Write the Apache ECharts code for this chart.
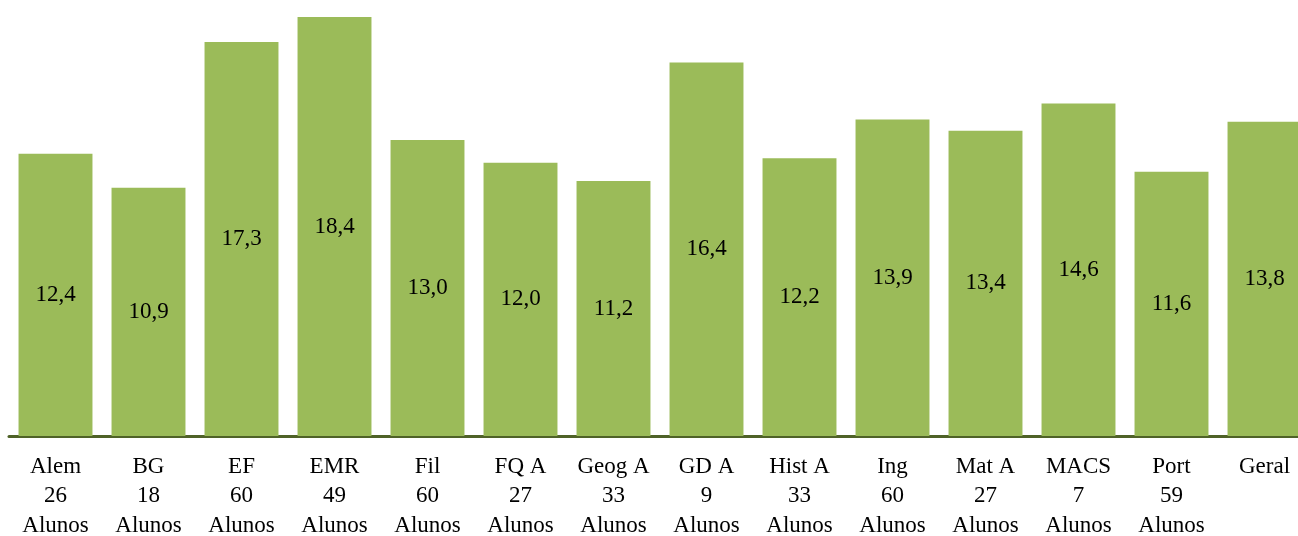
<!DOCTYPE html>
<html><head><meta charset="utf-8">
<script src="https://cdn.jsdelivr.net/npm/echarts@6/dist/echarts.min.js"></script>
<style>html,body{margin:0;padding:0;background:#fff}#c{width:1298px;height:536px}</style>
</head><body><div id="c"></div>
<script>
const subjects = ["Alem","BG","EF","EMR","Fil","FQ A","Geog A","GD A","Hist A","Ing","Mat A","MACS","Port","Geral"];
const students = ["26","18","60","49","60","27","33","9","33","60","27","7","59",""];
const averages = [12.4,10.9,17.3,18.4,13.0,12.0,11.2,16.4,12.2,13.9,13.4,14.6,11.6,13.8];

const categories = subjects.map((s,i)=> students[i] ? s + "\n" + students[i] + "\nAlunos" : s);
const chart = echarts.init(document.getElementById('c'));
chart.setOption({
  animation:false,
  grid:{left:9, width:1302, top:17, height:419, containLabel:false, outerBoundsMode:'none'},
  xAxis:{type:'category', data:categories,
    axisLine:{lineStyle:{color:'#4F6228', width:3}},
    axisTick:{show:false},
    axisLabel:{interval:0, color:'#000', fontFamily:'Liberation Serif', fontSize:23, lineHeight:29.5, margin:16}},
  yAxis:{type:'value', min:0, max:18.4, show:false, splitLine:{show:false}},
  series:[{type:'bar', data:averages, barCategoryGap:'20.5%',
    itemStyle:{color:'#9BBB59'},
    label:{show:true, position:'inside', color:'#000', fontFamily:'Liberation Serif', fontSize:23,
      formatter:p=>p.value.toFixed(1).replace('.',',')}}]
});
</script></body></html>
